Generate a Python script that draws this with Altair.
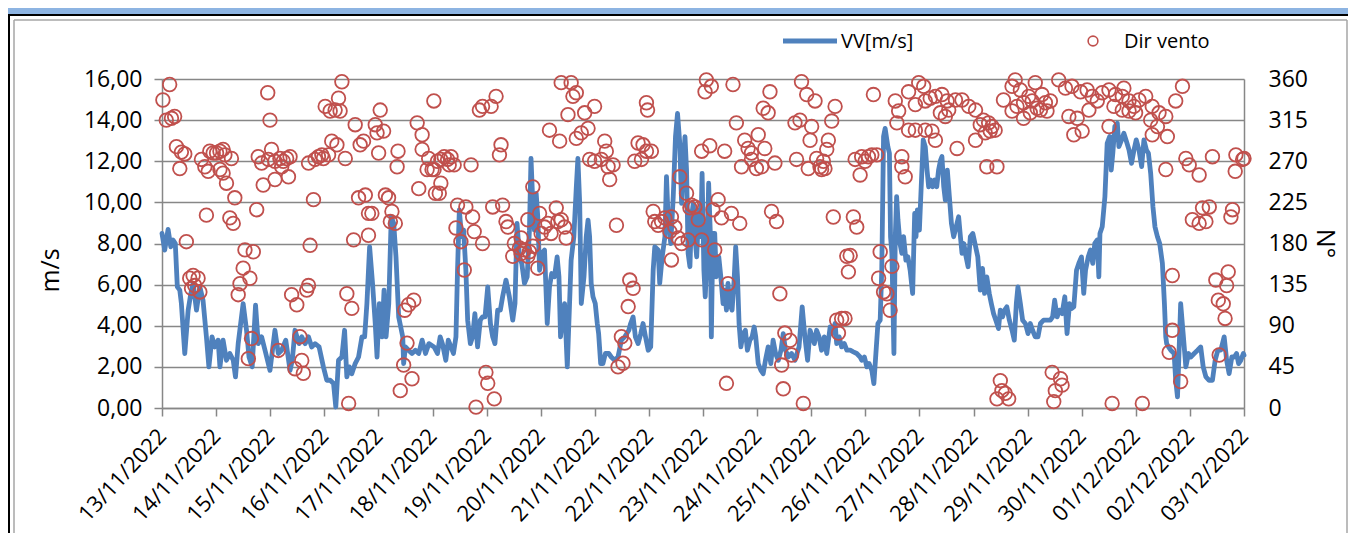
import altair as alt
import pandas as pd

FONT = "Open Sans"
BLUE = "#4F81BD"
RED = "#C0504D"
GRID = "#878787"

DATE_LABELS = ["13/11/2022", "14/11/2022", "15/11/2022", "16/11/2022", "17/11/2022",
               "18/11/2022", "19/11/2022", "20/11/2022", "21/11/2022", "22/11/2022",
               "23/11/2022", "24/11/2022", "25/11/2022", "26/11/2022", "27/11/2022",
               "28/11/2022", "29/11/2022", "30/11/2022", "01/12/2022", "02/12/2022",
               "03/12/2022"]

# wind speed (hours since 13/11/2022 00:00, m/s)
VV_HOURS_A = [0, 1.2, 2.7, 3.9, 4.9, 5.9, 6.8, 7.9, 8.6, 10.1,
              11.6, 12.8, 13.8, 15.3, 16.8, 18.2, 19.7, 20.8, 22.2, 23.4,
              24.9, 25.7, 27.1, 28.6, 30.1, 31.6, 32.6, 33.8, 36.0, 37.5,
              38.6, 40.0, 41.5, 42.7, 44.2, 45.7, 47.9, 50.1, 51.6, 53.1,
              54.9, 56.8, 57.8, 59.0, 60.8, 62.0, 63.5, 65.0, 66.4, 67.9,
              69.7, 71.6, 73.1, 74.6, 76.1, 77.1, 78.3, 79.8, 81.0, 82.0,
              83.1, 84.2, 85.7, 87.2, 88.7, 89.9, 90.9, 92.1, 93.4, 94.6,
              95.4, 96.4, 97.6, 98.5, 99.4, 100.6, 101.7, 102.8, 103.8, 105.0,
              106.8, 107.2, 108.0, 109.4, 110.9, 112.4, 113.9, 115.4, 116.9, 118.4]
VV_A = [8.49, 7.68, 8.69, 7.84, 8.17, 8.0, 5.89, 5.73, 5.08, 2.65,
        4.76, 5.57, 6.06, 4.76, 5.89, 5.24, 3.46, 2.0, 3.46, 2.97,
        3.3, 2.0, 3.3, 2.32, 2.65, 2.32, 1.51, 3.13, 5.08, 3.78,
        2.48, 2.0, 5.0, 3.13, 3.46, 2.81, 1.83, 3.78, 2.65, 2.81,
        3.3, 1.83, 2.32, 3.78, 3.13, 3.46, 3.13, 3.46, 2.97, 3.13,
        2.97, 2.0, 1.35, 1.35, 1.19, 0.05, 2.32, 2.48, 3.78, 1.51,
        2.0, 1.67, 2.16, 2.48, 3.46, 3.46, 5.08, 7.84, 6.06, 4.11,
        2.48, 5.08, 3.46, 5.73, 3.46, 5.08, 9.3, 8.98, 7.35, 4.43,
        3.46, 2.16, 2.97, 2.81, 2.65, 2.81, 2.65, 3.3, 2.65, 3.13]

VV_HOURS_B = [120.7, 122.2, 123.4, 124.4, 125.9, 127.0, 128.2, 129.3, 130.4, 131.1,
              131.9, 132.9, 133.8, 134.8, 135.6, 136.8, 137.8, 138.8, 140.0, 141.2,
              142.2, 143.3, 144.5, 145.7, 146.7, 147.7, 148.9, 150.1, 151.1, 152.6,
              154.1, 155.6, 156.6, 157.5, 158.6, 159.6, 160.8, 162.0, 163.0, 163.7,
              164.5, 165.2, 166.0, 166.7, 167.5, 168.5, 169.7, 170.9, 171.9, 172.9,
              174.1, 175.3, 176.1, 176.8, 177.4, 178.6, 179.8, 180.8, 181.5, 182.7,
              183.8, 184.5, 185.3, 186.0, 187.2, 188.2, 189.0, 189.7, 190.4, 191.2,
              192.2, 193.1, 193.7, 194.6, 195.6, 196.7, 198.2, 199.3, 200.8, 202.3,
              203.8, 205.3, 207.1, 207.9, 209.0, 210.0, 211.2, 212.4, 213.4, 214.5,
              215.7, 216.8, 217.9, 218.6, 220.1, 220.8, 221.9, 223.1, 223.8, 224.5,
              225.7, 226.8, 227.8, 228.7, 229.7, 230.5, 231.2, 232.0, 232.7, 233.4,
              234.2, 234.9, 235.7, 236.4, 237.2]
VV_B = [2.97, 2.65, 3.46, 3.13, 2.32, 3.30, 2.97, 2.65, 3.46, 6.70,
        9.63, 8.33, 8.65, 6.70, 4.27, 3.13, 3.46, 4.59, 2.97, 4.27,
        4.43, 4.43, 5.89, 4.11, 3.46, 3.13, 4.76, 4.76, 5.41, 6.22,
        5.41, 4.27, 5.08, 8.98, 7.35, 7.03, 6.06, 6.38, 8.65, 12.14,
        9.95, 8.65, 10.44, 9.30, 6.70, 7.52, 7.68, 4.11, 5.89, 6.54,
        6.38, 7.35, 6.38, 3.46, 4.11, 5.08, 2.00, 5.08, 7.19, 8.33,
        10.76, 12.14, 9.95, 5.08, 6.38, 8.33, 9.14, 8.33, 6.06, 5.41,
        5.08, 4.11, 3.62, 2.16, 2.16, 2.65, 2.65, 2.48, 2.32, 2.48,
        3.30, 3.46, 3.78, 4.11, 4.43, 3.46, 3.13, 3.62, 4.11, 3.46,
        2.81, 2.97, 6.70, 7.84, 7.68, 6.06, 7.35, 8.33, 11.25, 9.30,
        8.00, 10.28, 13.20, 14.33, 12.87, 9.95, 11.57, 13.20, 11.57, 7.52,
        6.87, 9.30, 9.95, 8.33, 7.35]

VV_HOURS_C = [238.1, 239.0, 239.6, 240.4, 241.0, 241.9, 242.5, 243.3, 243.7, 244.4,
              245.2, 245.9, 247.0, 247.9, 248.9, 249.6, 250.4, 251.1, 251.9, 252.9,
              253.8, 254.5, 255.3, 256.0, 256.8, 257.8, 258.8, 259.7, 260.8, 261.8,
              262.7, 263.4, 264.5, 265.7, 266.7, 267.7, 268.9, 270.1, 271.1, 272.2,
              273.4, 274.6, 275.6, 276.6, 277.8, 279.3, 280.8, 282.6, 284.0, 285.2,
              286.4, 287.5, 288.5, 289.4, 290.4, 291.5, 292.6, 293.8, 294.9, 296.4,
              297.4, 298.6, 299.3, 300.4, 301.5, 302.7, 303.8, 305.3, 306.7, 308.2,
              309.7, 310.4, 311.6, 312.7, 313.7, 314.9, 315.8, 316.7, 317.6, 318.6,
              319.3, 320.1, 320.8, 322.0, 322.7, 323.2, 323.8, 324.7, 325.3, 325.9,
              326.5, 327.4, 328.2, 329.0, 330.0, 330.9, 331.9, 333.0, 333.9, 334.5,
              335.1, 336.0, 336.8, 337.7, 338.6, 339.4, 340.1, 341.0, 341.9, 342.8,
              343.7, 344.5, 345.4, 346.0, 346.8, 347.5, 348.4, 349.3, 350.2, 351.2,
              352.3, 353.4, 354.2, 354.9, 355.7, 356.7, 357.6, 358.6, 359.7]
VV_C = [9.63, 8.33, 11.41, 6.70, 5.41, 7.68, 10.93, 8.33, 3.46, 8.49,
        8.49, 6.38, 7.35, 6.38, 5.08, 5.73, 4.76, 6.06, 5.08, 4.76,
        6.22, 7.84, 6.38, 4.11, 2.97, 3.62, 3.78, 2.81, 3.30, 3.46,
        3.94, 3.46, 2.16, 1.83, 1.67, 2.32, 2.97, 2.16, 3.30, 2.65,
        2.32, 2.81, 3.62, 2.81, 2.48, 2.65, 2.32, 2.97, 4.92, 3.46,
        2.32, 3.78, 3.46, 3.13, 3.78, 3.46, 2.81, 3.46, 2.65, 3.94,
        3.62, 4.11, 3.13, 3.46, 2.97, 3.13, 2.81, 2.81, 2.73, 2.65,
        2.48, 2.32, 2.48, 2.00, 2.16, 1.83, 1.19, 2.65, 4.11, 4.27,
        6.70, 13.20, 13.60, 12.71, 12.39, 8.33, 7.52, 2.65, 8.33, 10.28,
        9.14, 8.00, 7.52, 8.33, 7.19, 7.35, 6.70, 5.57, 9.46, 8.33,
        9.63, 8.65, 10.76, 13.04, 12.71, 11.57, 10.76, 11.09, 10.76, 11.09,
        10.76, 11.57, 12.06, 12.23, 10.76, 10.11, 11.57, 10.28, 8.98, 8.33,
        8.81, 9.30, 8.33, 7.52, 8.00, 7.35, 6.87, 8.33, 8.49]

VV_HOURS_D = [361.9, 363.0, 364.0, 364.9, 365.9, 367.0, 367.9, 368.9, 369.9, 371.1,
              371.9, 372.9, 373.8, 374.8, 375.9, 377.1, 378.1, 379.0, 379.7, 380.8,
              381.8, 383.0, 384.2, 385.2, 386.2, 387.4, 388.6, 389.7, 391.1, 392.6,
              394.1, 395.1, 396.0, 397.1, 398.1, 399.3, 400.5, 401.5, 402.6, 403.5,
              404.5, 405.7, 406.7, 407.9, 408.9, 409.7, 410.9, 411.9, 412.9, 413.8,
              414.9, 415.6, 416.1, 417.1, 418.3, 419.3, 420.4, 421.1, 421.8, 422.7,
              423.8, 424.5, 425.7, 426.7, 427.9, 429.0, 430.1, 431.2, 432.2, 433.4,
              434.6, 435.6, 436.7, 437.6, 438.6, 439.6, 440.5, 441.6, 442.6, 443.8,
              444.7, 445.3, 445.7, 446.5, 447.5, 449.0, 449.7, 450.5, 451.2, 451.9,
              453.0, 454.2, 455.4, 456.4, 457.9, 459.4, 460.8, 461.9, 463.1, 464.5,
              466.0, 467.2, 468.4, 469.7, 471.2, 472.3, 473.4, 474.6, 475.7, 476.7,
              477.6, 478.6, 479.7, 480.0]
VV_D = [7.35, 5.73, 6.79, 5.57, 6.38, 5.57, 5.08, 4.59, 4.27, 3.86,
        4.76, 4.43, 4.76, 4.92, 4.27, 3.78, 3.30, 5.08, 5.89, 5.08,
        4.27, 4.11, 3.62, 4.11, 3.78, 3.46, 3.46, 4.11, 4.27, 4.27,
        4.27, 4.43, 5.24, 4.43, 4.76, 4.59, 5.41, 3.62, 5.08, 4.84,
        4.92, 6.70, 7.03, 7.35, 5.57, 6.70, 7.35, 7.68, 7.03, 8.00,
        8.17, 6.38, 8.49, 8.81, 10.28, 12.87, 13.20, 11.57, 12.39, 13.69,
        13.85, 12.71, 13.04, 13.36, 12.95, 12.55, 11.90, 12.55, 13.04, 12.55,
        11.74, 13.04, 12.55, 12.39, 11.41, 9.79, 8.81, 8.33, 8.00, 7.03,
        5.08, 3.46, 3.13, 2.97, 2.81, 2.65, 1.35, 0.54, 2.81, 5.08,
        3.62, 2.00, 2.65, 2.48, 2.65, 2.81, 2.97, 2.00, 1.51, 1.35,
        1.35, 2.32, 2.81, 2.81, 3.46, 2.32, 1.67, 2.48, 2.48, 2.65,
        2.16, 2.32, 2.65, 2.57]

# wind direction (hours since 13/11/2022 00:00, degrees)
DIR_HOURS_A = [0.4, 3.4, 1.9, 4.2, 5.6, 6.4, 8.6, 10.1, 7.9, 10.8,
               12.3, 13.8, 14.5, 16.0, 13.1, 16.8, 19.7, 17.5, 19.0, 20.5,
               21.2, 22.7, 24.2, 25.7, 27.1, 27.9, 30.8, 25.7, 27.1, 28.6,
               32.3, 30.1, 31.6, 36.8, 40.5, 36.0, 39.0, 34.6, 33.8, 39.7,
               38.3, 42.0, 42.7, 44.2, 48.6, 47.2, 50.1, 52.3, 53.8, 55.3,
               56.8, 53.1, 56.1, 50.1, 44.9, 46.9, 47.9, 51.6, 57.5, 59.8,
               61.2, 62.0, 59.0, 62.7, 64.2, 65.0, 65.7, 67.2, 65.0, 67.9,
               69.4, 70.9, 71.6, 73.9, 75.3, 77.6, 81.3, 72.4, 74.6, 76.8,
               78.3, 79.8, 79.0, 82.0, 84.2, 82.8, 85.0, 87.2, 90.2, 91.6,
               93.1, 91.6, 85.7, 87.9, 89.4, 94.6, 95.4, 98.3, 96.8, 96.1,
               99.1, 100.5, 102.0, 101.3, 103.5, 104.7, 104.3, 107.7, 109.4, 111.7,
               108.7, 107.2, 110.9, 105.7, 113.2, 115.4, 115.4, 118.3, 117.6, 119.8,
               113.9, 120.6, 121.3]
DIR_DEG_A = [337, 354, 315, 317, 319, 286, 280, 278, 262, 182,
             142, 145, 134, 142, 131, 127, 211, 272, 264, 259,
             281, 279, 279, 281, 283, 277, 273, 261, 257, 246,
             230, 208, 202, 173, 171, 153, 142, 136, 124, 76,
             54, 217, 275, 268, 283, 272, 270, 273, 270, 273,
             275, 264, 253, 250, 244, 345, 315, 63, 124, 113,
             78, 52, 43, 38, 129, 134, 178, 228, 268, 272,
             275, 277, 273, 277, 292, 288, 273, 330, 325, 326,
             339, 357, 325, 125, 109, 5, 184, 230, 233, 213,
             213, 189, 310, 288, 292, 310, 301, 303, 326, 279,
             233, 230, 215, 204, 202, 281, 264, 107, 113, 118,
             71, 47, 32, 19, 312, 299, 283, 273, 261, 261,
             240, 336, 235]

DIR_HOURS_B = [120.7, 122.2, 123.7, 125.2, 126.7, 128.2, 129.6, 127.4, 123.7, 123.0,
               137.1, 131.1, 134.8, 137.8, 130.4, 132.6, 138.5, 142.2, 134.1, 140.8,
               142.2, 146.0, 148.2, 150.4, 149.7, 146.7, 151.1, 152.6, 153.4, 156.3,
               155.6, 158.6, 159.3, 160.8, 162.3, 163.0, 164.5, 159.3, 162.3, 164.5,
               167.5, 168.2, 166.7, 171.2, 172.6, 174.9, 175.6, 177.1, 179.3, 178.6,
               169.7, 143.7, 144.5, 147.4, 139.3, 177.1, 181.5, 183.8, 182.3, 180.1,
               187.5, 191.9, 189.0, 186.0, 183.8, 176.4, 171.9, 189.7, 191.9, 194.9,
               196.4, 197.1, 197.9, 200.1, 198.6, 201.6, 207.5, 209.0, 206.8, 203.8,
               205.3, 202.3, 204.5, 211.2, 213.4, 214.9, 217.1, 212.7, 209.7, 214.9,
               215.4, 217.9, 218.6, 220.1, 221.6, 223.1, 226.0, 227.5, 225.3, 229.0,
               230.5, 233.4, 226.0, 229.7, 232.7, 234.9, 236.4, 234.2, 237.9, 239.4,
               239.4, 240.9]
DIR_DEG_B = [261, 270, 272, 275, 272, 275, 266, 266, 246, 235,
             266, 222, 220, 209, 197, 182, 193, 180, 151, 326,
             330, 330, 341, 288, 277, 220, 222, 204, 198, 180,
             166, 175, 169, 173, 166, 171, 177, 186, 206, 242,
             213, 191, 153, 202, 191, 219, 204, 206, 186, 198,
             198, 39, 27, 10, 1, 356, 356, 345, 341, 321,
             323, 330, 306, 301, 295, 292, 304, 272, 270, 272,
             292, 281, 264, 266, 250, 200, 140, 131, 111, 78,
             71, 45, 49, 290, 288, 281, 281, 272, 270, 334,
             326, 215, 204, 200, 204, 208, 209, 198, 193, 186,
             180, 184, 162, 253, 235, 222, 220, 219, 206, 184,
             281, 346]

DIR_HOURS_C = [241.5, 243.7, 253.3, 269.7, 266.7, 268.9, 283.7, 286.0, 289.7, 298.6,
               280.8, 283.0, 288.2, 297.1, 287.5, 295.6, 294.9, 254.8, 243.0, 249.6,
               258.5, 260.0, 261.5, 264.5, 267.4, 257.1, 263.7, 266.0, 271.9, 261.5,
               281.5, 286.7, 290.4, 291.9, 293.4, 294.1, 292.6, 246.7, 244.4, 248.2,
               252.6, 256.3, 270.4, 272.6, 297.8, 306.7, 308.2, 245.2, 251.1, 274.1,
               276.3, 278.6, 279.3, 274.9, 250.4, 275.6, 284.5, 303.8, 305.3, 304.5,
               299.3, 301.5, 303.0, 300.1, 307.5, 310.4, 311.9, 313.4, 314.9, 317.1,
               309.7, 315.6, 325.3, 326.8, 326.0, 331.2, 334.2, 338.6, 341.6, 343.1,
               331.2, 335.7, 337.9, 334.2, 338.6, 340.8, 343.1, 346.0, 348.3, 349.0,
               352.0, 354.9, 357.9, 360.9, 345.3, 347.5, 352.7, 360.9, 328.2, 328.2,
               329.7, 318.6, 323.8, 317.9, 320.1, 321.6, 323.0]
DIR_DEG_C = [359, 352, 354, 346, 328, 323, 357, 343, 336, 330,
             312, 315, 308, 314, 293, 293, 283, 312, 287, 281,
             293, 284, 279, 299, 284, 264, 262, 264, 268, 272,
             272, 262, 273, 264, 270, 262, 261, 228, 217, 208,
             213, 202, 215, 204, 209, 209, 198, 173, 136, 125,
             82, 74, 58, 47, 27, 21, 5, 166, 167, 149,
             96, 98, 98, 82, 272, 275, 270, 275, 277, 277,
             255, 343, 336, 325, 312, 304, 304, 304, 303, 293,
             346, 356, 352, 332, 336, 339, 341, 343, 336, 326,
             337, 337, 330, 326, 323, 319, 284, 293, 275, 264,
             253, 171, 155, 142, 127, 125, 107]

DIR_HOURS_D = [363.0, 364.4, 366.7, 368.2, 369.6, 365.2, 367.4, 365.9, 370.4, 373.3,
               377.1, 378.5, 380.8, 377.1, 379.3, 382.2, 384.5, 386.0, 387.4, 388.2,
               390.4, 391.9, 394.1, 382.2, 385.2, 389.7, 392.6, 397.8, 400.8, 403.7,
               407.5, 410.4, 412.6, 414.9, 417.1, 420.1, 423.0, 426.7, 426.0, 429.0,
               431.2, 433.4, 436.4, 439.3, 442.3, 445.3, 449.7, 452.7, 402.3, 406.0,
               404.5, 408.2, 411.2, 420.1, 422.3, 426.0, 429.0, 431.9, 438.6, 441.6,
               439.3, 446.0, 445.3, 454.2, 455.7, 460.1, 466.0, 476.4, 479.4, 480.0,
               476.1, 457.1, 460.1, 463.1, 461.6, 464.6, 474.9, 474.2, 448.2, 467.5,
               473.0, 472.3, 468.6, 470.8, 471.6, 448.2, 446.8, 451.9, 469.0, 371.9,
               372.6, 374.1, 375.6, 370.4, 394.9, 398.6, 399.3, 396.3, 395.6, 421.5,
               434.9]
DIR_DEG_D = [310, 315, 312, 308, 304, 301, 303, 264, 264, 337,
             352, 359, 348, 325, 330, 334, 341, 336, 356, 328,
             343, 334, 336, 317, 323, 326, 325, 359, 350, 352,
             346, 348, 341, 336, 345, 348, 343, 350, 341, 336,
             330, 337, 341, 330, 323, 319, 336, 352, 319, 317,
             299, 303, 326, 308, 330, 326, 325, 323, 315, 308,
             299, 297, 261, 273, 266, 255, 275, 277, 272, 273,
             259, 206, 202, 204, 219, 220, 217, 209, 145, 140,
             149, 134, 118, 114, 98, 85, 61, 29, 58, 30,
             19, 16, 10, 10, 39, 32, 25, 19, 7, 5,
             5]

line_df = pd.DataFrame({
    "h": VV_HOURS_A + VV_HOURS_B + VV_HOURS_C + VV_HOURS_D,
    "v": VV_A + VV_B + VV_C + VV_D,
})
dir_df = pd.DataFrame({
    "h": DIR_HOURS_A + DIR_HOURS_B + DIR_HOURS_C + DIR_HOURS_D,
    "d": DIR_DEG_A + DIR_DEG_B + DIR_DEG_C + DIR_DEG_D,
})
one = pd.DataFrame({"k": [0]})

W, H = 1082, 329
x_scale = alt.Scale(domain=[0, 480], nice=False, zero=False)
label_expr = "[" + ",".join("'%s'" % s for s in DATE_LABELS) + "][round(datum.value / 24)]"

x_axis = alt.Axis(values=list(range(0, 481, 24)), labelExpr=label_expr, labelAngle=313,
                  labelAlign="right", labelBaseline="middle", labelPadding=16,
                  labelFontSize=22, labelFont=FONT, labelColor="black", labelOverlap=False,
                  tickSize=8, tickColor=GRID, tickWidth=1.5, domainColor=GRID, domainWidth=1.5,
                  grid=False, title="")

left_axis = alt.Axis(orient="left", values=list(range(0, 17, 2)),
                     labelExpr="replace(format(datum.value, '.2f'), '.', ',')",
                     grid=True, gridColor=GRID, gridWidth=1.5,
                     domainColor=GRID, domainWidth=1.5, tickColor=GRID, tickSize=8, tickWidth=1.5,
                     labelFontSize=23, labelFont=FONT, labelColor="black", labelPadding=12,
                     title="m/s", titleFontSize=25, titleFont=FONT, titleFontWeight="normal",
                     titleColor="black", titleX=-112, titleY=191, titleAngle=270,
                     titleAlign="center", titleBaseline="middle")

right_axis = alt.Axis(orient="right", values=list(range(0, 361, 45)), format="d",
                      grid=False, domainColor=GRID, domainWidth=1.5, ticks=False,
                      labelFontSize=23, labelFont=FONT, labelColor="black", labelPadding=24,
                      title="N°", titleFontSize=25, titleFont=FONT, titleFontWeight="normal",
                      titleColor="black", titleX=80, titleY=164, titleAngle=90,
                      titleAlign="center", titleBaseline="middle")

line = alt.Chart(line_df).mark_line(color=BLUE, strokeWidth=4.8, strokeJoin="round",
                                    strokeCap="round").encode(
    x=alt.X("h:Q", scale=x_scale, axis=x_axis),
    y=alt.Y("v:Q", scale=alt.Scale(domain=[0, 16], nice=False), axis=left_axis),
)

points = alt.Chart(dir_df).mark_point(shape="circle", filled=False, size=185, strokeWidth=1.8,
                                      color=RED, opacity=1).encode(
    x=alt.X("h:Q", scale=x_scale),
    y=alt.Y("d:Q", scale=alt.Scale(domain=[0, 360], nice=False), axis=right_axis),
)

# page frame decorations
band = alt.Chart(one).mark_rect(color="#8DB4E2").encode(
    x=alt.value(-154), x2=alt.value(W + 104), y=alt.value(-71), y2=alt.value(-65))
band_line = alt.Chart(one).mark_rect(color="black").encode(
    x=alt.value(-154), x2=alt.value(W + 104), y=alt.value(-65), y2=alt.value(-63))
left_black = alt.Chart(one).mark_rect(color="black").encode(
    x=alt.value(-154), x2=alt.value(-152), y=alt.value(-65), y2=alt.value(H + 125))
inner_left = alt.Chart(one).mark_rule(color="#A6A6A6", strokeWidth=1.5).encode(
    x=alt.value(-148), y=alt.value(-59), y2=alt.value(H + 125))
inner_right = alt.Chart(one).mark_rule(color="#A6A6A6", strokeWidth=1.5).encode(
    x=alt.value(1185), y=alt.value(-59), y2=alt.value(H + 125))
inner_top = alt.Chart(one).mark_rule(color="#A6A6A6", strokeWidth=1.5).encode(
    x=alt.value(-148), x2=alt.value(1185), y=alt.value(-59))

# legend
LEG_Y = -38
leg_line = alt.Chart(one).mark_rule(color=BLUE, strokeWidth=4.8).encode(
    x=alt.value(621), x2=alt.value(675), y=alt.value(LEG_Y))
leg_text1 = alt.Chart(one).mark_text(align="left", baseline="middle", fontSize=20, font=FONT,
                                     color="black").encode(
    x=alt.value(679), y=alt.value(LEG_Y + 0.5), text=alt.value("VV[m/s]"))
leg_circle = alt.Chart(one).mark_point(shape="circle", filled=False, size=95, strokeWidth=1.6,
                                       color=RED, opacity=1).encode(
    x=alt.value(931), y=alt.value(LEG_Y))
leg_text2 = alt.Chart(one).mark_text(align="left", baseline="middle", fontSize=20, font=FONT,
                                     color="black").encode(
    x=alt.value(962), y=alt.value(LEG_Y + 0.5), text=alt.value("Dir vento"))

chart = alt.layer(
    line, points, band, band_line, left_black, inner_left, inner_right, inner_top,
    leg_line, leg_text1, leg_circle, leg_text2,
).resolve_scale(y="independent").properties(
    width=W, height=H,
    padding={"left": 154, "top": 71, "right": 104, "bottom": 125},
    autosize=alt.AutoSizeParams(type="none"),
    background="white",
).configure_view(strokeWidth=0)

chart.save("out.html", embed_options={"renderer": "svg", "actions": False})
